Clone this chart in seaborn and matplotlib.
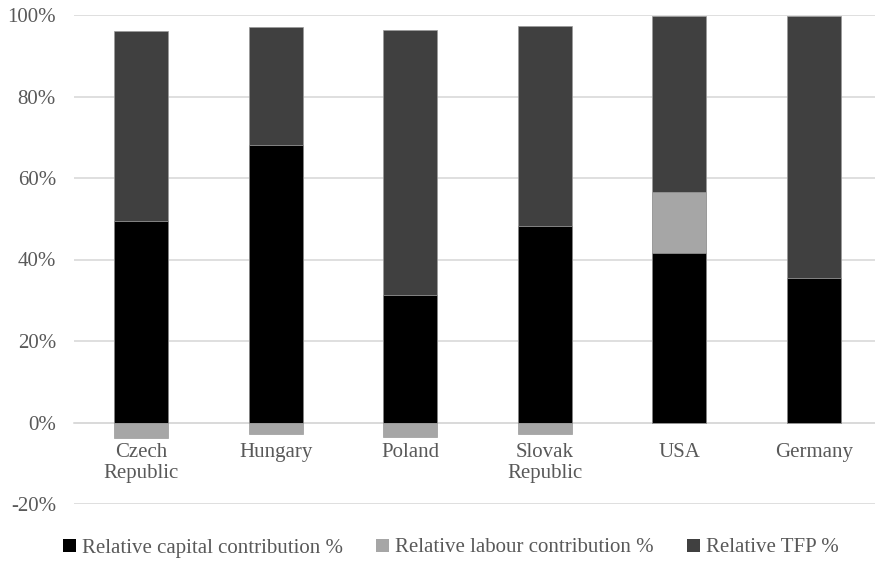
import matplotlib
matplotlib.use("Agg")
import matplotlib.pyplot as plt
import seaborn as sns
import pandas as pd
import numpy as np
from matplotlib.patches import Patch

countries = ["Czech\nRepublic", "Hungary", "Poland", "Slovak\nRepublic", "USA", "Germany"]
capital = [49.4, 68.1, 31.2, 48.2, 41.6, 35.4]
labour = [-3.8, -2.9, -3.5, -2.7, 14.9, 0.0]
tfp = [46.7, 29.0, 65.2, 49.1, 43.3, 64.3]
series_names = ["Relative capital contribution %", "Relative labour contribution %", "Relative TFP %"]
yticks = [-20, 0, 20, 40, 60, 80, 100]

sns.set_theme(style="white")
plt.rcParams['font.family'] = ['Liberation Serif', 'DejaVu Serif']

c_cap, c_lab, c_tfp = "#000000", "#a6a6a6", "#404040"

df = pd.DataFrame({"country": countries, "capital": capital, "labour": labour, "tfp": tfp})
df["lab_pos"] = df["labour"].clip(lower=0)
df["lab_neg"] = df["labour"].clip(upper=0)
df["top_total"] = df["capital"] + df["lab_pos"] + df["tfp"]
df["cap_lab"] = df["capital"] + df["lab_pos"]

fig = plt.figure(figsize=(8.75, 5.66), dpi=100)
ax = fig.add_axes([74/875, 62/566, 807/875, 489/566])

common = dict(x="country", order=countries, width=0.4, saturation=1, ax=ax,
              edgecolor="#9a9a9a", linewidth=0.5, zorder=3)
sns.barplot(data=df, y="top_total", color=c_tfp, **common)
sns.barplot(data=df, y="cap_lab", color=c_lab, **common)
sns.barplot(data=df, y="capital", color=c_cap, **common)
sns.barplot(data=df, y="lab_neg", color=c_lab, **common)

ax.set_ylim(-20, 100)
ax.set_xlim(-0.5, len(countries) - 0.5)
ax.set_yticks(yticks)
ax.set_yticklabels([f"{v}%" for v in yticks])
ax.set_xlabel("")
ax.set_ylabel("")
ax.yaxis.grid(True, color="#d9d9d9", linewidth=1.2, zorder=0)
ax.set_axisbelow(True)
for s in ["top", "right", "left"]:
    ax.spines[s].set_visible(False)
ax.spines["bottom"].set_position(("data", 0))
ax.spines["bottom"].set_color("#d9d9d9")
ax.spines["bottom"].set_linewidth(1.2)
ax.spines["bottom"].set_zorder(2)
ax.tick_params(axis="both", length=0, labelsize=15, colors="#595959")
ax.tick_params(axis="y", pad=13)
ax.tick_params(axis="x", pad=15)
for lbl in ax.get_xticklabels():
    lbl.set_linespacing(1.15)

handles = [Patch(facecolor=c, edgecolor="none") for c in (c_cap, c_lab, c_tfp)]
fig.legend(handles, series_names, loc="center", bbox_to_anchor=(451/875, 1 - 548/566),
           ncol=3, frameon=False, fontsize=15, labelcolor="#595959",
           handlelength=0.6, handleheight=0.6, handletextpad=0.3, columnspacing=1.6)

fig.savefig("out.png", dpi=100)
